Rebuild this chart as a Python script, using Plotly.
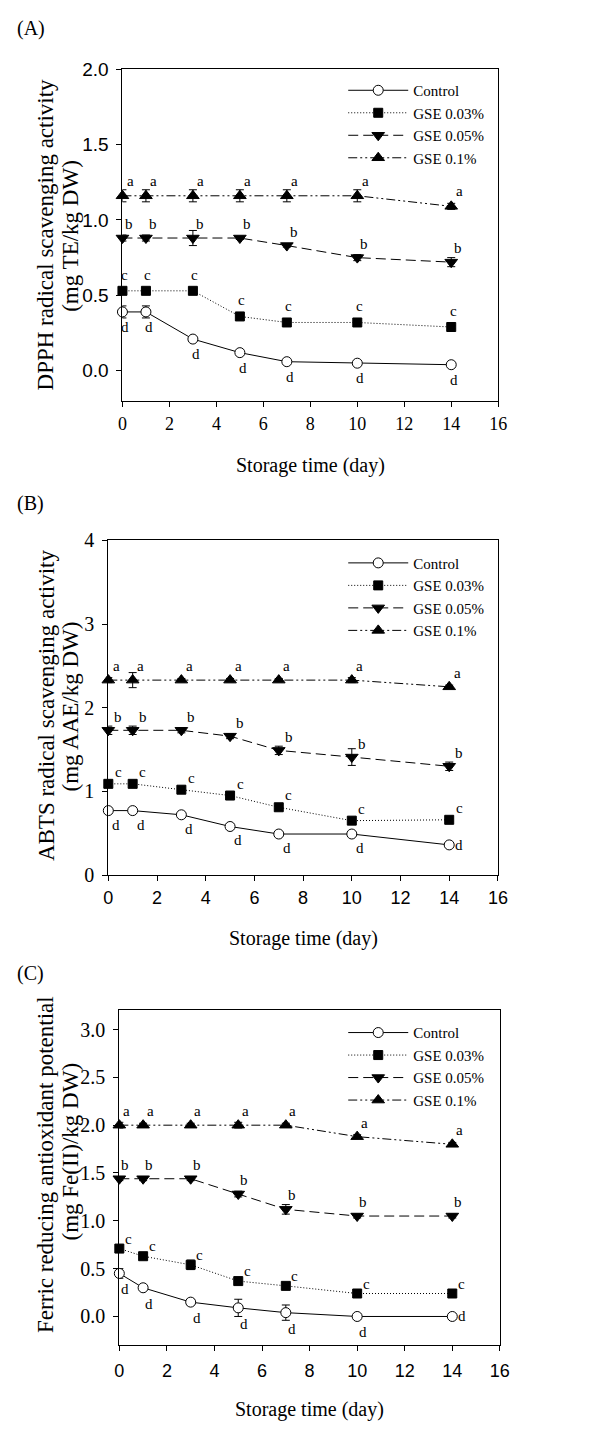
import plotly.graph_objects as go

# ---------------- data ----------------
days = [0, 1, 3, 5, 7, 10, 14]
series_names = ["Control", "GSE 0.03%", "GSE 0.05%", "GSE 0.1%"]
series_letters = ["d", "c", "b", "a"]

# (A) DPPH radical scavenging activity (mg TE/kg DW)
dpph_control = [0.39, 0.39, 0.21, 0.12, 0.06, 0.05, 0.04]
dpph_gse003 = [0.53, 0.53, 0.53, 0.36, 0.32, 0.32, 0.29]
dpph_gse005 = [0.88, 0.88, 0.88, 0.88, 0.83, 0.75, 0.72]
dpph_gse01 = [1.16, 1.16, 1.16, 1.16, 1.16, 1.16, 1.09]
dpph_control_err = [0.04, 0.04, 0.01, 0.01, 0.01, 0.01, 0.01]
dpph_gse003_err = [0.01, 0.01, 0.02, 0.01, 0.01, 0.01, 0.01]
dpph_gse005_err = [0.02, 0.02, 0.05, 0.01, 0.01, 0.02, 0.03]
dpph_gse01_err = [0.04, 0.04, 0.04, 0.04, 0.04, 0.04, 0.02]

# (B) ABTS radical scavenging activity (mg AAE/kg DW)
abts_control = [0.77, 0.77, 0.72, 0.58, 0.49, 0.49, 0.36]
abts_gse003 = [1.09, 1.09, 1.02, 0.95, 0.81, 0.65, 0.66]
abts_gse005 = [1.73, 1.73, 1.73, 1.66, 1.49, 1.41, 1.30]
abts_gse01 = [2.33, 2.33, 2.33, 2.33, 2.33, 2.33, 2.25]
abts_control_err = [0.02, 0.02, 0.02, 0.02, 0.02, 0.02, 0.02]
abts_gse003_err = [0.03, 0.02, 0.02, 0.02, 0.02, 0.02, 0.02]
abts_gse005_err = [0.05, 0.05, 0.03, 0.03, 0.05, 0.10, 0.05]
abts_gse01_err = [0.03, 0.09, 0.02, 0.02, 0.02, 0.03, 0.02]

# (C) Ferric reducing antioxidant potential (mg Fe(II)/kg DW)
frap_control = [0.45, 0.30, 0.15, 0.09, 0.04, 0.00, 0.00]
frap_gse003 = [0.71, 0.63, 0.54, 0.37, 0.32, 0.24, 0.24]
frap_gse005 = [1.44, 1.44, 1.44, 1.28, 1.12, 1.05, 1.05]
frap_gse01 = [2.00, 2.00, 2.00, 2.00, 2.00, 1.88, 1.80]
frap_control_err = [0.05, 0.02, 0.03, 0.09, 0.08, 0.02, 0.02]
frap_gse003_err = [0.03, 0.03, 0.05, 0.03, 0.03, 0.04, 0.03]
frap_gse005_err = [0.02, 0.02, 0.02, 0.03, 0.05, 0.02, 0.02]
frap_gse01_err = [0.03, 0.02, 0.02, 0.03, 0.02, 0.02, 0.02]

x_ticks = [0, 2, 4, 6, 8, 10, 12, 14, 16]
dpph_ticks = [0.0, 0.5, 1.0, 1.5, 2.0]
abts_ticks = [0, 1, 2, 3, 4]
frap_ticks = [0.0, 0.5, 1.0, 1.5, 2.0, 2.5, 3.0]

# ---------------- styling ----------------
W, H = 593, 1431
SERIF = "Liberation Serif, Times New Roman, serif"
SANS = "Liberation Sans, Arial, sans-serif"


def px(p):  # page x -> paper fraction
    return p / W


def py(p):  # page y -> paper fraction
    return 1 - p / H


styles = [
    dict(symbol="circle", color="white", size=10, dash="solid"),
    dict(symbol="square", color="black", size=9, dash="1px,2px"),
    dict(symbol="triangle-down", color="black", size=11, dash="10px,5px"),
    dict(symbol="triangle-up", color="black", size=11, dash="9px,3px,2px,3px,2px,3px"),
]

panels = [
    dict(
        key="A",
        data=[dpph_control, dpph_gse003, dpph_gse005, dpph_gse01],
        err=[dpph_control_err, dpph_gse003_err, dpph_gse005_err, dpph_gse01_err],
        yticks=dpph_ticks, yfmt="%.1f", yrange=[-0.2, 2.0],
        dom_x=[120.5, 506], dom_y=[59, 396],
        ytickfont=dict(family=SANS, size=19), xtickfont=dict(family=SERIF, size=18),
        xstand=1,
        title1="DPPH radical scavenging activity", title2="(mg TE/kg DW)",
        t1=(42, 227), t2=(67, 228), xtitle_y=462, label_y=18,
        legend_top=64,
        offs={"d": [(3, -15)] * 7, "c": [(2, 16)] * 7, "b": [(7, 14)] * 7, "a": [(8, 15)] * 7},
    ),
    dict(
        key="B",
        data=[abts_control, abts_gse003, abts_gse005, abts_gse01],
        err=[abts_control_err, abts_gse003_err, abts_gse005_err, abts_gse01_err],
        yticks=abts_ticks, yfmt="%d", yrange=[0, 4],
        dom_x=[106, 505.7], dom_y=[537.7, 877.5],
        ytickfont=dict(family=SERIF, size=20), xtickfont=dict(family=SANS, size=18),
        xstand=1,
        title1="ABTS radical scavenging activity", title2="(mg AAE/kg DW)",
        t1=(42, 705), t2=(67, 706), xtitle_y=942, label_y=500,
        legend_top=544,
        offs={"d": [(8, -14)] * 6 + [(10, 0)], "c": [(10, 12)] * 7, "b": [(10, 13)] * 7, "a": [(8, 14)] * 7},
    ),
    dict(
        key="C",
        data=[frap_control, frap_gse003, frap_gse005, frap_gse01],
        err=[frap_control_err, frap_gse003_err, frap_gse005_err, frap_gse01_err],
        yticks=frap_ticks, yfmt="%.1f", yrange=[-0.3, 3.2],
        dom_x=[117.3, 507.7], dom_y=[1015, 1355],
        ytickfont=dict(family=SERIF, size=20), xtickfont=dict(family=SANS, size=18),
        xstand=4,
        title1="Ferric reducing antioxidant potential", title2="(mg Fe(II)/kg DW)",
        t1=(42, 1171), t2=(67, 1158), xtitle_y=1420, label_y=978,
        legend_top=1021,
        offs={"d": [(6, -16)] * 6 + [(10, 0)], "c": [(9, 10)] * 7, "b": [(6, 14)] * 7, "a": [(7, 14)] * 7},
    ),
]

fig = go.Figure()
annotations = []
layout = dict(
    width=W, height=H, margin=dict(l=0, r=0, t=0, b=0),
    paper_bgcolor="white", plot_bgcolor="white", showlegend=True,
)

for i, p in enumerate(panels):
    n = "" if i == 0 else str(i + 1)
    xa, ya = "x" + n, "y" + n
    leg = "legend" + n
    for s, (name, vals, errs, st) in enumerate(zip(series_names, p["data"], p["err"], styles)):
        fig.add_trace(go.Scatter(
            x=days, y=vals, name=name, mode="lines+markers",
            xaxis=xa, yaxis=ya, legend=leg, cliponaxis=False,
            line=dict(color="black", width=1, dash=st["dash"]),
            marker=dict(symbol=st["symbol"], size=st["size"], color=st["color"],
                        line=dict(color="black", width=1)),
            error_y=dict(type="data", array=errs, color="black", thickness=1, width=4),
        ))
        letter = series_letters[s]
        for j, (d, v) in enumerate(zip(days, vals)):
            dx, dy = p["offs"][letter][j]
            annotations.append(dict(
                x=d, y=v, xref=xa, yref=ya, text=letter, showarrow=False,
                xshift=dx, yshift=dy, font=dict(family=SERIF, size=15, color="black"),
            ))

    axis_common = dict(showline=True, mirror=True, linecolor="black", linewidth=1,
                       ticks="outside", ticklen=5, tickcolor="black", tickwidth=1,
                       showgrid=False, zeroline=False)
    layout["xaxis" + n] = dict(
        axis_common, domain=[px(p["dom_x"][0]), px(p["dom_x"][1])], anchor=ya,
        range=[0, 16], tickvals=x_ticks, ticktext=[str(t) for t in x_ticks],
        tickfont=dict(p["xtickfont"], color="black"), ticklabelstandoff=p["xstand"],
    )
    layout["yaxis" + n] = dict(
        axis_common, domain=[py(p["dom_y"][1]), py(p["dom_y"][0])], anchor=xa,
        range=p["yrange"], tickvals=p["yticks"],
        ticktext=[p["yfmt"] % t for t in p["yticks"]],
        tickfont=dict(p["ytickfont"], color="black"), ticklabelstandoff=4,
    )
    layout[leg] = dict(
        x=px(347), y=py(p["legend_top"]), xanchor="left", yanchor="top",
        bgcolor="rgba(0,0,0,0)", borderwidth=0, itemwidth=60,
        font=dict(family=SERIF, size=15, color="black"), tracegroupgap=0,
    )
    # axis titles and panel label
    for key, txt in (("t1", p["title1"]), ("t2", p["title2"])):
        annotations.append(dict(x=px(p[key][0]), y=py(p[key][1]), xref="paper", yref="paper",
                                text=txt, textangle=-90, showarrow=False,
                                xanchor="center", yanchor="middle",
                                font=dict(family=SERIF, size=23, color="black")))
    annotations.append(dict(x=px((p["dom_x"][0] + p["dom_x"][1]) / 2), y=py(p["xtitle_y"]),
                            xref="paper", yref="paper", text="Storage time (day)",
                            showarrow=False, xanchor="center", yanchor="middle",
                            font=dict(family=SERIF, size=20, color="black")))
    annotations.append(dict(x=px(10), y=py(p["label_y"]), xref="paper", yref="paper",
                            text="(" + p["key"] + ")", showarrow=False,
                            xanchor="left", yanchor="middle",
                            font=dict(family=SERIF, size=20, color="black")))

layout["annotations"] = annotations
fig.update_layout(**layout)
# remove the browser's default body margin so the figure fills the window exactly
fig.write_html(
    "out.html",
    post_script="document.body.style.margin='0';document.documentElement.style.overflow='hidden';",
)
